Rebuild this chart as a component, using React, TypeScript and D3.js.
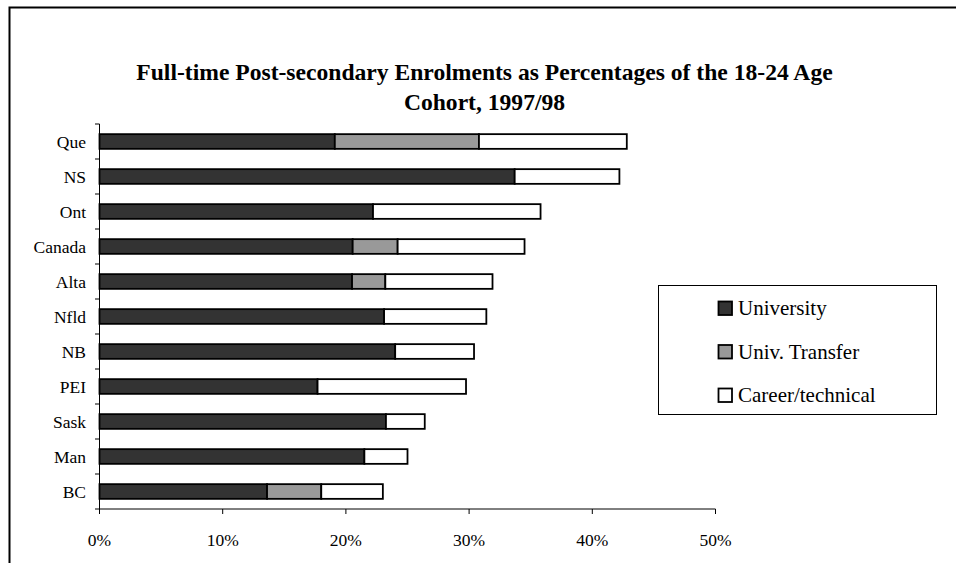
import React from "react";
import * as d3 from "d3";

const categories = ["Que", "NS", "Ont", "Canada", "Alta", "Nfld", "NB", "PEI", "Sask", "Man", "BC"];
const university = [19.1, 33.7, 22.2, 20.55, 20.5, 23.1, 24.0, 17.7, 23.25, 21.5, 13.6];
const univTransfer = [11.7, 0, 0, 3.65, 2.7, 0, 0, 0, 0, 0, 4.4];
const careerTechnical = [12.0, 8.5, 13.6, 10.3, 8.7, 8.3, 6.4, 12.05, 3.15, 3.5, 5.0];
const seriesNames = ["University", "Univ. Transfer", "Career/technical"];
const seriesColors = ["#333333", "#999999", "#ffffff"];
const xTicks = [0, 10, 20, 30, 40, 50];
const titleLines = [
  "Full-time Post-secondary Enrolments as Percentages of the 18-24 Age",
  "Cohort, 1997/98",
];

const W = 956;
const H = 563;
const FONT = "'Liberation Serif', 'Times New Roman', Times, serif";

export default function App() {
  const x = d3.scaleLinear().domain([0, 50]).range([99.5, 715.5]);
  const y = d3.scaleBand<string>().domain(categories).range([124, 509]).paddingInner(0.58).paddingOuter(0.29);

  const table = categories.map((c, i) => ({
    cat: c,
    University: university[i],
    "Univ. Transfer": univTransfer[i],
    "Career/technical": careerTechnical[i],
  }));
  const stack = d3.stack<any>().keys(seriesNames)(table);

  const step = (509 - 124) / categories.length;
  const boundaries = d3.range(categories.length + 1).map((i) => 124 + i * step);

  return (
    <svg width={W} height={H} style={{ position: "absolute", left: 0, top: 0, background: "#fff" }} fontFamily={FONT}>
      <rect x={0} y={0} width={W} height={H} fill="#fff" />
      <path d={`M9.5,${H} V7.5 H${W + 2}`} fill="none" stroke="#000" strokeWidth={2} />
      {titleLines.map((t, i) => (
        <text key={i} x={484.5} y={80 + i * 30} textAnchor="middle" fontWeight="bold" fontSize={23.6} fill="#000">
          {t}
        </text>
      ))}
      {stack.map((layer, si) => (
        <g key={si}>
          {layer.map((d, ci) =>
            d[1] - d[0] > 0 ? (
              <rect
                key={ci}
                x={x(d[0])}
                y={y(categories[ci])!}
                width={x(d[1]) - x(d[0])}
                height={y.bandwidth()}
                fill={seriesColors[si]}
                stroke="#000"
                strokeWidth={1.8}
              />
            ) : null
          )}
        </g>
      ))}
      {/* y axis */}
      <line x1={99.5} x2={99.5} y1={124} y2={509} stroke="#000" strokeWidth={1} />
      {boundaries.map((b, i) => (
        <line key={i} x1={95} x2={99.5} y1={b} y2={b} stroke="#000" strokeWidth={1} />
      ))}
      {categories.map((c) => (
        <text key={c} x={86} y={y(c)! + y.bandwidth() / 2} dy="0.35em" textAnchor="end" fontSize={17.5} fill="#000">
          {c}
        </text>
      ))}
      {/* x axis */}
      <line x1={99.5} x2={x(50)} y1={509} y2={509} stroke="#000" strokeWidth={1} />
      {xTicks.map((t) => (
        <g key={t}>
          <line x1={x(t)} x2={x(t)} y1={509} y2={514} stroke="#000" strokeWidth={1} />
          <text x={x(t)} y={546} textAnchor="middle" fontSize={17.5} fill="#000">
            {t + "%"}
          </text>
        </g>
      ))}
      {/* legend */}
      <rect x={658.5} y={285.5} width={278} height={129} fill="#fff" stroke="#000" strokeWidth={1} />
      {seriesNames.map((s, i) => (
        <g key={s}>
          <rect x={718.5} y={301.5 + i * 43.5} width={13.5} height={13.5} fill={seriesColors[i]} stroke="#000" strokeWidth={1.8} />
          <text x={738} y={308 + i * 43.5} dy="0.35em" fontSize={21} fill="#000">
            {s}
          </text>
        </g>
      ))}
    </svg>
  );
}
